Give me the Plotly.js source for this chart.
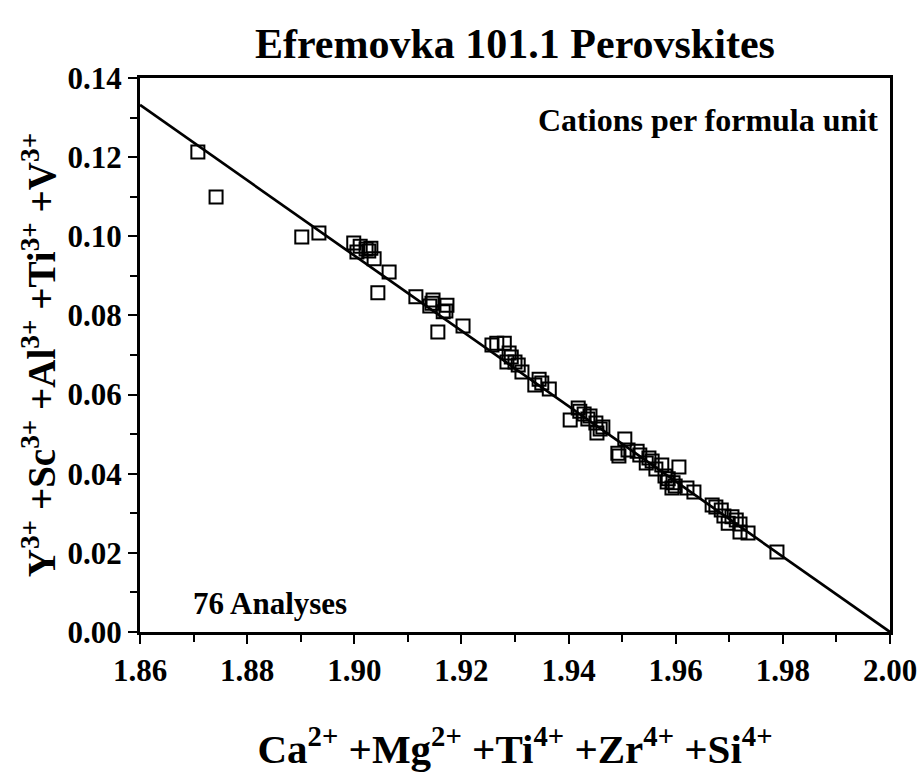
<!DOCTYPE html>
<html>
<head>
<meta charset="utf-8">
<script src="https://cdn.plot.ly/plotly-3.0.1.min.js"></script>
<style>html,body{margin:0;padding:0;background:#fff;}#chart{width:922px;height:777px;}</style>
</head>
<body>
<div id="chart"></div>
<script>
// Cation sums
var cationsX = [1.8708,1.8742,1.8902,1.8934,1.8999,1.9005,1.9022,1.9027,1.9037,1.9065,
  1.9044,1.9115,1.9147,1.9141,1.9173,1.9166,1.9203,1.9156,1.9257,1.9280,
  1.9289,1.9285,1.9300,1.9313,1.9345,1.9337,1.9364,1.9418,1.9403,1.9429,
  1.9436,1.9451,1.9464,1.9453,1.9505,1.9492,1.9494,1.9511,1.9528,1.9550,
  1.9545,1.9574,1.9606,1.9563,1.9580,1.9584,1.9595,1.9593,1.9621,1.9634,
  1.9668,1.9685,1.9690,1.9705,1.9698,1.9720,1.9720,1.9735,1.9789,1.9011,
  1.9031,1.9145,1.9171,1.9266,1.9293,1.9306,1.9350,1.9421,1.9440,1.9459,
  1.9533,1.9556,1.9586,1.9599,1.9675,1.9713];
var cationsY = [0.1213,0.1099,0.0998,0.1008,0.0983,0.0960,0.0968,0.0963,0.0943,0.0910,
  0.0857,0.0847,0.0839,0.0824,0.0826,0.0809,0.0773,0.0758,0.0725,0.0730,
  0.0705,0.0682,0.0682,0.0657,0.0639,0.0624,0.0614,0.0566,0.0536,0.0551,
  0.0538,0.0528,0.0518,0.0503,0.0488,0.0452,0.0445,0.0460,0.0457,0.0440,
  0.0427,0.0422,0.0417,0.0412,0.0394,0.0379,0.0377,0.0364,0.0364,0.0354,
  0.0321,0.0308,0.0293,0.0291,0.0275,0.0273,0.0253,0.0250,0.0202,0.0975,
  0.0970,0.0831,0.0811,0.0730,0.0695,0.0675,0.0629,0.0558,0.0546,0.0513,
  0.0447,0.0432,0.0387,0.0369,0.0316,0.0283];
// Reference line
var fitX = [1.86, 2.00];
var fitY = [0.1332, 0.0];
var xTicks = [1.86,1.88,1.90,1.92,1.94,1.96,1.98,2.00];
var yTicks = [0.00,0.02,0.04,0.06,0.08,0.10,0.12,0.14];

var serif = '"Liberation Serif", serif';
var traces = [
  {x: fitX, y: fitY, type: 'scatter', mode: 'lines', line: {color: '#000', width: 2.7}, hoverinfo: 'skip'},
  {x: cationsX, y: cationsY, type: 'scatter', mode: 'markers',
   marker: {symbol: 'square-open', size: 13, color: '#000', line: {width: 2, color: '#000'}}}
];
var layout = {
  width: 922, height: 777,
  paper_bgcolor: '#fff', plot_bgcolor: '#fff',
  showlegend: false,
  font: {family: serif, color: '#000'},
  margin: {l: 140, r: 32, t: 78, b: 145},
  title: {text: '<b>Efremovka 101.1 Perovskites</b>', font: {family: serif, size: 42, color: '#000'},
          x: 0.5585, xanchor: 'center', y: 0.944, yanchor: 'middle'},
  xaxis: {
    range: [1.86, 2.00], tickvals: xTicks, ticktext: xTicks.map(function(v){return '<b>'+v.toFixed(2)+'</b>';}),
    ticks: 'outside', ticklen: 9, tickwidth: 2, tickcolor: '#000',
    minor: {dtick: 0.01, ticks: 'outside', ticklen: 7, tickwidth: 2, tickcolor: '#000'},
    showline: true, linewidth: 3, linecolor: '#000', mirror: true,
    showgrid: false, zeroline: false,
    tickfont: {family: serif, size: 31, color: '#000'},
    title: {text: '<b>Ca<sup>2+</sup> +Mg<sup>2+</sup> +Ti<sup>4+</sup> +Zr<sup>4+</sup> +Si<sup>4+</sup></b>',
            font: {family: serif, size: 41, color: '#000'}, standoff: 48}
  },
  yaxis: {
    range: [0, 0.14], tickvals: yTicks, ticktext: yTicks.map(function(v){return '<b>'+v.toFixed(2)+'</b>';}),
    ticks: 'outside', ticklen: 9, tickwidth: 2, tickcolor: '#000',
    minor: {dtick: 0.01, ticks: 'outside', ticklen: 7, tickwidth: 2, tickcolor: '#000'},
    showline: true, linewidth: 3, linecolor: '#000', mirror: true,
    showgrid: false, zeroline: false,
    tickfont: {family: serif, size: 31, color: '#000'},
    title: {text: '<b>Y<sup>3+</sup> +Sc<sup>3+</sup> +Al<sup>3+</sup> +Ti<sup>3+</sup> +V<sup>3+</sup></b>',
            font: {family: serif, size: 39, color: '#000'}, standoff: 0}
  },
  annotations: [
    {text: '<b>Cations per formula unit</b>', xref: 'paper', yref: 'paper', x: 0.987, y: 0.925,
     xanchor: 'right', yanchor: 'middle', showarrow: false, font: {family: serif, size: 32, color: '#000'}},
    {text: '<b>76 Analyses</b>', xref: 'paper', yref: 'paper', x: 0.068, y: 0.052,
     xanchor: 'left', yanchor: 'middle', showarrow: false, font: {family: serif, size: 31, color: '#000'}}
  ]
};
Plotly.newPlot('chart', traces, layout, {displayModeBar: false, staticPlot: true});
</script>
</body>
</html>
